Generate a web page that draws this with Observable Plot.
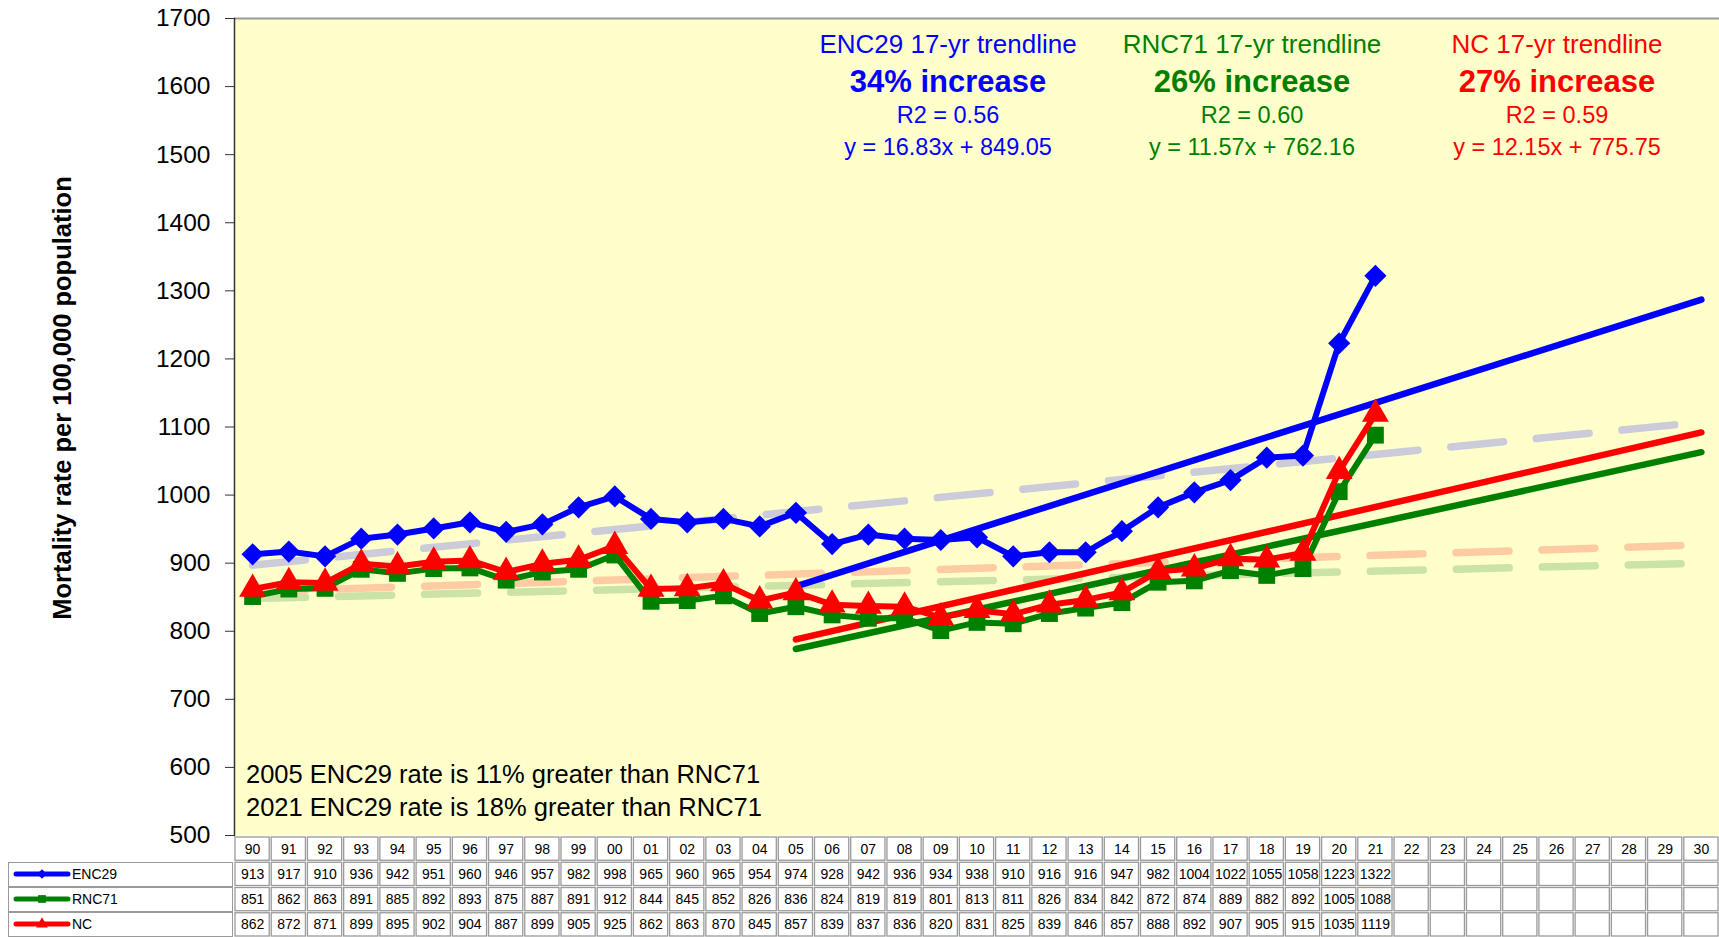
<!DOCTYPE html>
<html><head><meta charset="utf-8">
<script src="https://cdn.jsdelivr.net/npm/d3@7"></script>
<script src="https://cdn.jsdelivr.net/npm/@observablehq/plot@0.6"></script>
<style>
html,body{margin:0;padding:0;overflow:hidden;background:#fff;font-family:"Liberation Sans",Arial,sans-serif;}
#wrap{position:relative;width:1719px;height:937px;overflow:hidden;background:#fff;}
#chart svg,#table svg{display:block;max-width:none !important;}
#chart svg{overflow:visible;}
#table{position:absolute;left:0;top:836px;}
.abs{position:absolute;white-space:nowrap;line-height:1;}
.c{transform:translate(-50%,-50%);}
.l{transform:translate(0,-50%);}
.leg{position:absolute;left:8px;width:225px;box-sizing:border-box;border:1.2px solid #9a9a9a;background:#fff;}
</style></head><body>
<div id="wrap"><div id="chart"></div><div id="table"></div></div>
<script>
// ---- data ----
const yearLabels = ["90","91","92","93","94","95","96","97","98","99","00","01","02","03","04","05","06","07","08","09","10","11","12","13","14","15","16","17","18","19","20","21","22","23","24","25","26","27","28","29","30"];
const dataYears = ["90","91","92","93","94","95","96","97","98","99","00","01","02","03","04","05","06","07","08","09","10","11","12","13","14","15","16","17","18","19","20","21"];
const enc29 = [913,917,910,936,942,951,960,946,957,982,998,965,960,965,954,974,928,942,936,934,938,910,916,916,947,982,1004,1022,1055,1058,1223,1322];
const rnc71 = [851,862,863,891,885,892,893,875,887,891,912,844,845,852,826,836,824,819,819,801,813,811,826,834,842,872,874,889,882,892,1005,1088];
const nc    = [862,872,871,899,895,902,904,887,899,905,925,862,863,870,845,857,839,837,836,820,831,825,839,846,857,888,892,907,905,915,1035,1119];
const seriesNames = ["ENC29","RNC71","NC"];
const seriesColors = ["#0000ff","#008000","#ff0000"];
const seriesSymbols = ["diamond2","square","triangle"];
const seriesR = [10,9.5,10];

// 17-yr trendlines (2005 -> 2030)
const trendYears = ["05","30"];
const enc29Trend = [866,1287];
const rnc71Trend = [774,1063];
const ncTrend    = [788,1092];

// long-term faded dashed trendlines (1990 -> 2030)
const longYears = ["90","30"];
const enc29Long = [897,1107];
const rnc71Long = [848,900];
const ncLong    = [858,927];
const longColors = ["#cbcbda","#cce3a8","#ffcba3"];

const yTicks = [500,600,700,800,900,1000,1100,1200,1300,1400,1500,1600,1700];

const yTitle = "Mortality rate per 100,000 population";
const annTitles = ["ENC29 17-yr trendline","RNC71 17-yr trendline","NC 17-yr trendline"];
const annIncrease = ["34% increase","26% increase","27% increase"];
const annR2 = ["R2 = 0.56","R2 = 0.60","R2 = 0.59"];
const annEq = ["y = 16.83x + 849.05","y = 11.57x + 762.16","y = 12.15x + 775.75"];
const notes = ["2005 ENC29 rate is 11% greater than RNC71","2021 ENC29 rate is 18% greater than RNC71"];

// ---- build ----
const allSeries = [enc29, rnc71, nc];
const toRows = (xs, vals, name) => vals.map((v,j)=>({year:xs[j], value:v, name}));
const seriesData = allSeries.map((vals,i)=>toRows(dataYears, vals, seriesNames[i]));
const trendData = [enc29Trend, rnc71Trend, ncTrend].map((v,i)=>toRows(trendYears, v, seriesNames[i]));
const longData = [enc29Long, rnc71Long, ncLong].map((v,i)=>toRows(longYears, v, seriesNames[i]));

const font = "Liberation Sans, Arial, sans-serif";
const marks = [Plot.frame({fill:"#ffffcc", stroke:null})];
longData.forEach((d,i)=>marks.push(Plot.line(d,{x:"year",y:"value",stroke:longColors[i],strokeWidth:7.5,strokeDasharray:"53,33",strokeLinecap:"round"})));
trendData.forEach((d,i)=>marks.push(Plot.line(d,{x:"year",y:"value",stroke:seriesColors[i],strokeWidth:6.5,strokeLinecap:"round"})));
seriesData.forEach((d,i)=>{
  marks.push(Plot.line(d,{x:"year",y:"value",stroke:seriesColors[i],strokeWidth:6,strokeLinejoin:"round"}));
  marks.push(Plot.dot(d,{x:"year",y:"value",symbol:()=>seriesSymbols[i],fill:seriesColors[i],r:seriesR[i],stroke:null}));
});
marks.push(Plot.ruleY([1700],{stroke:"#9a9a9a",strokeWidth:2}));
marks.push(Plot.frame({anchor:"left",stroke:"#333",strokeWidth:1.5}));
marks.push(Plot.axisY({ticks:yTicks,tickSize:9,tickPadding:15,fontSize:24.5,tickFormat:d=>String(d),fill:"black",stroke:"#333",label:null}));

const chart = Plot.plot({
  width:1719, height:836, marginLeft:234, marginRight:0, marginTop:18, marginBottom:1,
  style:{fontFamily:font, background:"transparent", color:"black", overflow:"visible"},
  x:{type:"point", domain:yearLabels, padding:0.5, round:false, axis:null},
  y:{domain:[500,1700], axis:null},
  symbol:{type:"identity"},
  marks
});
document.getElementById("chart").appendChild(chart);

// data table
const rowNames = ["year", ...seriesNames];
const cells = [];
yearLabels.forEach((yl,j)=>{
  cells.push({year:yl,row:"year",text:yl});
  allSeries.forEach((vals,i)=>cells.push({year:yl,row:seriesNames[i],text: j<vals.length ? String(vals[j]) : ""}));
});
const table = Plot.plot({
  width:1719, height:101, marginLeft:234, marginRight:0, marginTop:0, marginBottom:0,
  style:{fontFamily:font, background:"transparent", color:"black"},
  x:{type:"band", domain:yearLabels, padding:0, round:false, axis:null},
  y:{type:"band", domain:rowNames, padding:0, round:false, axis:null},
  marks:[
    Plot.cell(cells,{x:"year",y:"row",fill:"white",stroke:"#9a9a9a",strokeWidth:1.3,inset:1}),
    Plot.text(cells,{x:"year",y:"row",text:"text",fontSize:14,fill:"black"})
  ]
});
document.getElementById("table").appendChild(table);

// overlays
const wrap = document.getElementById("wrap");
function addText(txt, x, y, cls, style){
  const d = document.createElement("div");
  d.className = "abs " + cls;
  d.textContent = txt;
  d.style.left = x+"px"; d.style.top = y+"px";
  Object.assign(d.style, style);
  wrap.appendChild(d);
  return d;
}
const annX = [948,1252,1557];
const lineY = [44,81,116,148];
annX.forEach((x,i)=>{
  const col = seriesColors[i];
  addText(annTitles[i], x, lineY[0], "c", {fontSize:"26px", color:col});
  addText(annIncrease[i], x, lineY[1], "c", {fontSize:"31px", fontWeight:"bold", color:col});
  addText(annR2[i], x, lineY[2], "c", {fontSize:"23.5px", color:col});
  addText(annEq[i], x, lineY[3], "c", {fontSize:"23.5px", color:col});
});
addText(notes[0], 246, 775, "l", {fontSize:"25.5px", color:"#000"});
addText(notes[1], 246, 808, "l", {fontSize:"25.5px", color:"#000"});
addText(yTitle, 63, 398, "c", {fontSize:"25.5px", fontWeight:"bold", color:"#000", transform:"translate(-50%,-50%) rotate(-90deg)"});

// legend column of data table
const rowH = 101/4;
seriesNames.forEach((n,i)=>{
  const box = document.createElement("div");
  box.className = "leg";
  box.style.top = (836 + rowH*(i+1) + 0.5) + "px";
  box.style.height = (rowH - 0.5) + "px";
  wrap.appendChild(box);
  const cy = 836 + rowH*(i+1.5);
  const s = d3.create("svg").attr("width",60).attr("height",20)
    .style("position","absolute").style("left","12px").style("top",(cy-10)+"px");
  s.append("line").attr("x1",4).attr("x2",56).attr("y1",10).attr("y2",10)
    .attr("stroke",seriesColors[i]).attr("stroke-width",5).attr("stroke-linecap","round");
  const sym = {diamond2:d3.symbolDiamond2, square:d3.symbolSquare, triangle:d3.symbolTriangle}[seriesSymbols[i]];
  s.append("path").attr("d", d3.symbol(sym, 60)()).attr("transform","translate(30,10)").attr("fill",seriesColors[i]);
  wrap.appendChild(s.node());
  addText(n, 72, cy, "l", {fontSize:"14px", color:"#000"});
});
</script></body></html>
